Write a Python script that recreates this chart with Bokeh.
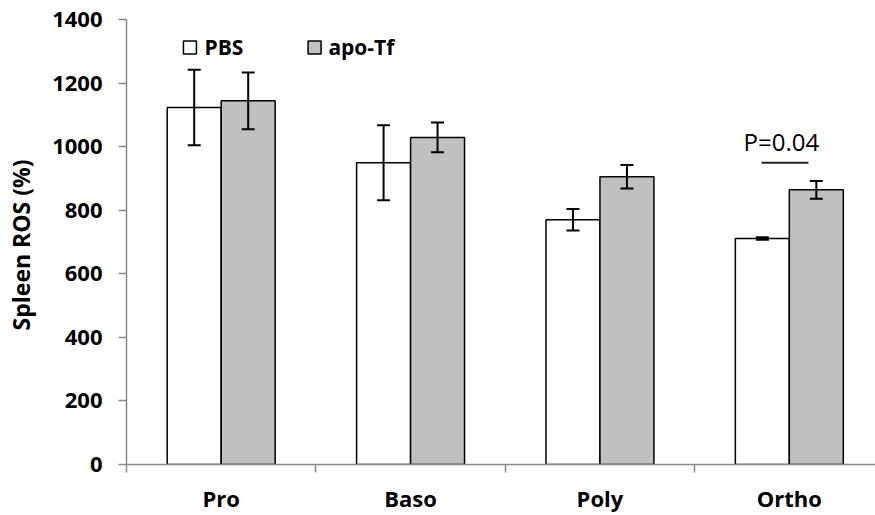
from bokeh.plotting import figure
from bokeh.models import Range1d, FixedTicker, Whisker, TeeHead, ColumnDataSource
from bokeh.core.properties import value
from bokeh.embed import file_html
from bokeh.resources import INLINE
import numpy as np

# ---- data ----
categories = ["Pro", "Baso", "Poly", "Ortho"]
series_names = ["PBS", "apo-Tf"]
pbs_mean = [1123, 949, 770, 711]
pbs_err = [119, 118, 34, 4]
apotf_mean = [1144, 1029, 905, 864]
apotf_err = [89, 47, 37, 28]
y_ticks = [0, 200, 400, 600, 800, 1000, 1200, 1400]
y_label = "Spleen ROS  (%)"
p_text = "P=0.04"

FONT = "Open Sans"
BAR_W = 0.285
idx = np.arange(len(categories))
centers = idx + 0.5
pbs_x = centers - BAR_W / 2
apo_x = centers + BAR_W / 2

p = figure(width=875, height=515, output_backend="svg", toolbar_location=None,
           x_range=Range1d(0, 3.955), y_range=Range1d(0, 1400),
           min_border_left=126, min_border_right=0, min_border_top=19, min_border_bottom=49)
p.outline_line_color = None
p.xgrid.visible = False
p.ygrid.visible = False

pbs_src = ColumnDataSource(dict(x=pbs_x, top=pbs_mean,
                                upper=np.array(pbs_mean) + np.array(pbs_err),
                                lower=np.array(pbs_mean) - np.array(pbs_err)))
apo_src = ColumnDataSource(dict(x=apo_x, top=apotf_mean,
                                upper=np.array(apotf_mean) + np.array(apotf_err),
                                lower=np.array(apotf_mean) - np.array(apotf_err)))

p.vbar(x="x", top="top", width=BAR_W, bottom=0, source=pbs_src,
       fill_color="white", line_color="black", line_width=1.5)
p.vbar(x="x", top="top", width=BAR_W, bottom=0, source=apo_src,
       fill_color="#C0C0C0", line_color="black", line_width=1.5)

for src in (pbs_src, apo_src):
    w = Whisker(source=src, base="x", upper="upper", lower="lower", level="annotation",
                line_color="black", line_width=2,
                upper_head=TeeHead(size=13, line_width=2, line_color="black"),
                lower_head=TeeHead(size=13, line_width=2, line_color="black"))
    p.add_layout(w)

# legend (manual)
leg_y = 1312
for sx, tx, name, fill in [(0.335, 0.412, series_names[0], "white"),
                           (0.993, 1.066, series_names[1], "#C0C0C0")]:
    p.scatter(x=[sx], y=[leg_y], marker="square", size=13, fill_color=fill,
              line_color="black", line_width=1.5)
    p.text(x=[tx], y=[leg_y], text=[name], text_baseline="middle", text_align="left",
           text_font=value(FONT), text_font_style="bold", text_font_size="21px",
           text_color="black")

# p-value annotation
p.text(x=[3.458], y=[965], text=[p_text], text_baseline="bottom", text_align="center",
       text_font=value(FONT), text_font_size="24px", text_color="black")
p.segment(x0=[3.353], y0=[949], x1=[3.601], y1=[949], line_width=2, line_color="#222222")

# axes
AX = "#898989"
xa = p.xaxis[0]
xa.ticker = FixedTicker(ticks=list(centers), minor_ticks=list(idx))
xa.major_label_overrides = {float(c): cat for c, cat in zip(centers, categories)}
xa.major_tick_line_color = None
xa.major_tick_out = 8
xa.major_tick_in = 0
xa.minor_tick_line_color = AX
xa.minor_tick_out = 8
xa.minor_tick_in = 0
xa.minor_tick_line_width = 1.5
xa.axis_line_color = AX
xa.axis_line_width = 1.5
xa.major_label_standoff = 10
xa.major_label_text_font = FONT
xa.major_label_text_font_style = "bold"
xa.major_label_text_font_size = "22px"
xa.major_label_text_color = "black"

ya = p.yaxis[0]
ya.ticker = FixedTicker(ticks=y_ticks, minor_ticks=[])
ya.major_tick_line_color = AX
ya.major_tick_line_width = 1.5
ya.major_tick_out = 8
ya.major_tick_in = 0
ya.minor_tick_line_color = None
ya.axis_line_color = AX
ya.axis_line_width = 1.5
ya.major_label_standoff = 16
ya.major_label_text_font = FONT
ya.major_label_text_font_style = "bold"
ya.major_label_text_font_size = "22px"
ya.major_label_text_color = "black"
ya.axis_label = y_label
ya.axis_label_text_font = FONT
ya.axis_label_text_font_style = "bold"
ya.axis_label_text_font_size = "23px"
ya.axis_label_text_color = "black"
ya.axis_label_standoff = 12

open("out.html", "w").write(file_html(p, INLINE))
